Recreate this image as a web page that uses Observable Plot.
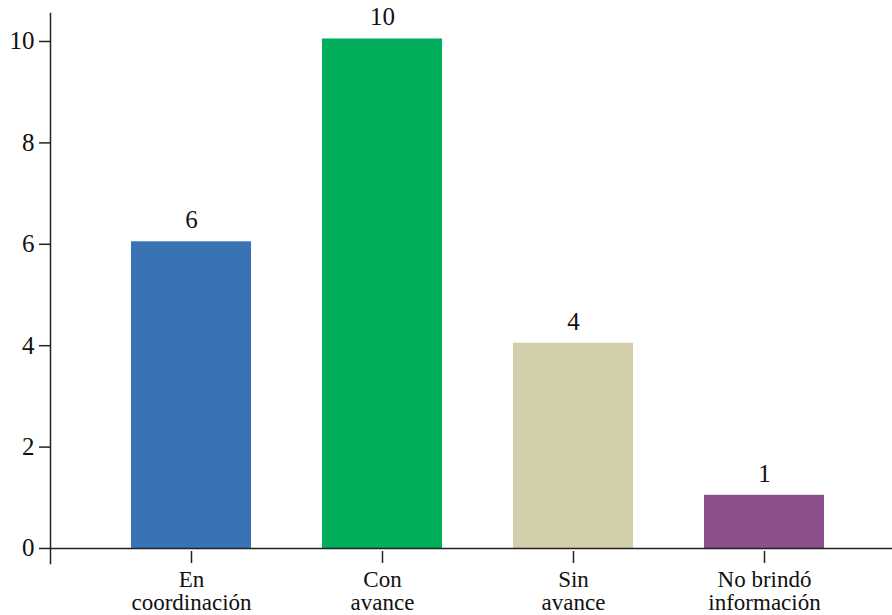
<!DOCTYPE html>
<html>
<head>
<meta charset="utf-8">
<script src="https://cdn.jsdelivr.net/npm/d3@7"></script>
<script src="https://cdn.jsdelivr.net/npm/@observablehq/plot@0.6"></script>
<style>
  html, body { margin: 0; padding: 0; background: #fff; }
</style>
</head>
<body>
<div id="chart"></div>
<script>
const categories = ["En\ncoordinación", "Con\navance", "Sin\navance", "No brindó\ninformación"];
const values = [6, 10, 4, 1];
const colors = ["#3a73b4", "#00ae5b", "#d3cfaa", "#8b4f8c"];
const yTicks = [0, 2, 4, 6, 8, 10];

const data = categories.map((c, i) => ({category: c, value: values[i], color: colors[i]}));
const ink = "#222";

const chart = Plot.plot({
  width: 892,
  height: 615,
  marginTop: 13,
  marginBottom: 52,
  marginLeft: 50,
  marginRight: 0,
  style: {fontFamily: "'Liberation Serif', serif", fontSize: "25px", color: "#111", background: "#fff"},
  x: {domain: categories, range: [130, 824], paddingInner: 0.373, paddingOuter: 0, label: null},
  y: {domain: [-0.296, 10.552], label: null},
  marks: [
    Plot.barY(data, {x: "category", y: "value", fill: "color", insetTop: -2.5}),
    Plot.ruleY([0], {stroke: ink, strokeWidth: 1.5}),
    Plot.frame({anchor: "left", stroke: ink, strokeWidth: 1.5}),
    Plot.axisY({ticks: yTicks, tickSize: 11, tickPadding: 5, stroke: ink, strokeWidth: 1.5, fontSize: 25, label: null}),
    Plot.axisX({tickSize: -12, tickFormat: () => "", stroke: ink, strokeWidth: 1.5, label: null}),
    Plot.axisX({tickSize: 0, tickPadding: 7, fontSize: 23, lineHeight: 1.0, label: null}),
    Plot.text(data, {x: "category", y: "value", text: d => String(d.value), dy: -16, lineAnchor: "bottom", fontSize: 25, fill: "#111"})
  ]
});
document.getElementById("chart").appendChild(chart);
</script>
</body>
</html>
